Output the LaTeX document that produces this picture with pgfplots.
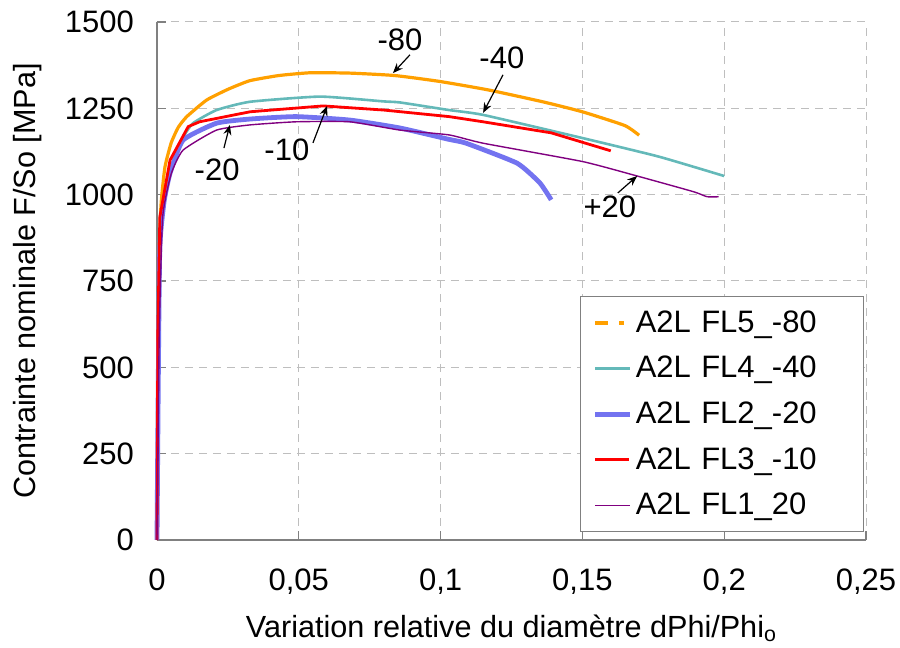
\documentclass[border=0pt]{standalone}
\usepackage{pgfplots}
\pgfplotsset{compat=1.18}
\usepackage{fontspec}
\setmainfont{Liberation Sans}
\usetikzlibrary{arrows.meta}
\definecolor{cOrange}{RGB}{255,160,0}
\definecolor{cTeal}{RGB}{100,185,185}
\definecolor{cBlue}{RGB}{115,115,240}
\definecolor{cRed}{RGB}{255,0,0}
\definecolor{cPurple}{RGB}{128,0,128}
\definecolor{cGrid}{RGB}{190,190,190}
\begin{document}
\begin{tikzpicture}
\path[use as bounding box] (-78.5pt,-54pt) rectangle (371.5pt,270pt);
\begin{axis}[
  scale only axis, width=354.5pt, height=259pt,
  xmin=0, xmax=0.25, ymin=0, ymax=1500,
  xtick={0,0.05,...,0.25}, ytick={0,250,...,1500},
  axis x line*=bottom, axis y line*=left,
  axis line style={draw=gray, line width=0.8pt},
  every outer x axis line/.append style={-},
  every outer y axis line/.append style={-},
  tick style={draw=gray, line width=0.6pt},
  tick align=inside, major tick length=4.5pt,
  grid=major, grid style={draw=cGrid, dash pattern=on 4pt off 3pt, line width=0.5pt},
  /pgf/number format/assume math mode=true,
  /pgf/number format/use comma,
  xticklabel style={/pgf/number format/fixed, /pgf/number format/precision=2, yshift=-11pt},
  yticklabel style={/pgf/number format/1000 sep={}, xshift=-8pt},
  scaled x ticks=false,
  tick label style={font=\fontsize{15.5}{18}\selectfont},
  xlabel={Variation relative du diamètre dPhi/Phi\textsubscript{o}},
  ylabel={Contrainte nominale F/So [MPa]},
  every axis x label/.style={at={(axis description cs:0.5,0)}, anchor=center, yshift=-44pt, font=\fontsize{15.3}{18}\selectfont},
  every axis y label/.style={at={(axis description cs:0,0.5)}, rotate=90, anchor=center, yshift=64.5pt, font=\fontsize{15.3}{18}\selectfont},
  legend style={at={(0.597,0.471)}, anchor=north west, draw=gray, line width=0.6pt,
    font=\fontsize{15.5}{18}\selectfont, row sep=6.5pt, inner xsep=6pt, inner ysep=5pt,
    cells={anchor=west, text width=106pt, align=left}},
  legend cell align=left,
  clip=false,
]
\addplot[cOrange, line width=1.6pt, smooth, tension=0.3, legend image code/.code={\draw[cOrange,line width=1.6pt] (0cm,0cm) -- (0.22cm,0cm); \draw[cOrange,line width=1.6pt] (0.42cm,0cm) -- (0.5cm,0cm);}] coordinates {
(0,0)(0.0003,500)(0.0008,850)(0.0015,980)(0.0028,1080)(0.005,1150)(0.0075,1195)(0.0105,1226)(0.0175,1274)(0.025,1305)(0.0327,1330)(0.043,1345)(0.054,1353)(0.068,1352)(0.0838,1345)(0.0996,1328)(0.117,1303)(0.136,1269)(0.150,1240)(0.165,1200)(0.170,1172)};
\addlegendentry{A2L FL5\_-80}
\addplot[cTeal, line width=1.3pt, smooth, tension=0.3] coordinates {
(0,0)(0.0005,600)(0.001,850)(0.002,960)(0.004,1060)(0.0092,1165)(0.0127,1207)(0.021,1245)(0.0328,1269)(0.0575,1284)(0.080,1270)(0.0857,1267)(0.103,1245)(0.115,1231)(0.150,1164)(0.177,1110)(0.200,1054)};
\addlegendentry{A2L FL4\_-40}
\addplot[cBlue, line width=2.4pt, smooth, tension=0.3] coordinates {
(0,0)(0.0005,500)(0.001,850)(0.0025,980)(0.0046,1062)(0.0092,1158)(0.021,1207)(0.0328,1219)(0.049,1226)(0.068,1216)(0.0857,1193)(0.103,1160)(0.109,1149)(0.127,1091)(0.135,1034)(0.139,985)};
\addlegendentry{A2L FL2\_-20}
\addplot[cRed, line width=1.4pt] coordinates {
(0,0)(0.0003,600)(0.001,935)(0.0046,1100)(0.011,1197)(0.015,1211)(0.0328,1240)(0.0586,1257)(0.080,1245)(0.103,1226)(0.115,1211)(0.139,1179)(0.160,1127)};
\addlegendentry{A2L FL3\_-10}
\addplot[cPurple, line width=0.7pt, smooth, tension=0.3] coordinates {
(0,0)(0.0008,600)(0.002,935)(0.005,1060)(0.0092,1129)(0.021,1187)(0.0328,1202)(0.049,1211)(0.068,1211)(0.0857,1187)(0.103,1173)(0.115,1149)(0.150,1096)(0.168,1057)(0.189,1009)(0.194,994)(0.198,994)};
\addlegendentry{A2L FL1\_20}
% annotations
\begin{scope}[font=\fontsize{15.5}{18}\selectfont]
\node at (axis cs:0.0857,1448) {-80};
\draw[-{Stealth[length=5pt,width=4pt]}, line width=0.6pt] (axis cs:0.0892,1405) -- (axis cs:0.0832,1352);
\node at (axis cs:0.1216,1396) {-40};
\draw[-{Stealth[length=5pt,width=4pt]}, line width=0.6pt] (axis cs:0.122,1347) -- (axis cs:0.115,1237);
\node at (axis cs:0.0212,1072) {-20};
\draw[-{Stealth[length=5pt,width=4pt]}, line width=0.6pt] (axis cs:0.0236,1135) -- (axis cs:0.0257,1202);
\node at (axis cs:0.0458,1129) {-10};
\draw[-{Stealth[length=5pt,width=4pt]}, line width=0.6pt] (axis cs:0.055,1150) -- (axis cs:0.060,1257);
\node at (axis cs:0.1597,964) {+20};
\draw[-{Stealth[length=5pt,width=4pt]}, line width=0.6pt] (axis cs:0.1625,1005) -- (axis cs:0.1693,1054);
\end{scope}
\end{axis}
\end{tikzpicture}
\end{document}
